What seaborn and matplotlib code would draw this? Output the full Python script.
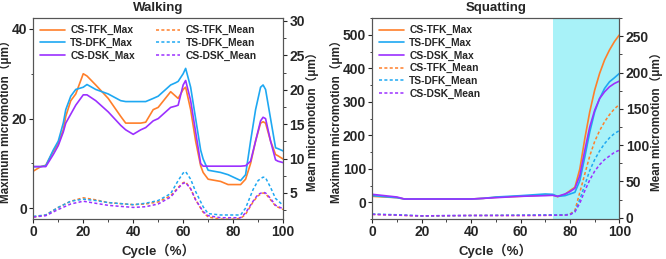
import numpy as np
import pandas as pd
import matplotlib
matplotlib.use("Agg")
import matplotlib.pyplot as plt
import seaborn as sns
from matplotlib.ticker import MultipleLocator, AutoMinorLocator

sns.set_style("ticks")
plt.rcParams['font.family'] = ['Liberation Sans', 'Noto Sans CJK SC', 'DejaVu Sans']
plt.rcParams['font.weight'] = 'bold'

series_names = ["CS-TFK", "TS-DFK", "CS-DSK"]
colors = ["#FF7F2A", "#1EA8F2", "#9B30FF"]

# ---------------- Walking ----------------
walk_x = [0, 3, 5, 8, 10, 12, 13, 15, 17, 20, 21.5, 25, 30, 35, 37, 40, 43, 45, 48, 50, 55, 57, 58, 60, 61,
          63, 65, 67, 68, 70, 75, 78, 83, 85, 87, 89, 91, 92, 93, 95, 97, 98, 100]
walk_tfk_max = [8.3, 9.3, 9.6, 12.7, 14.5, 17.5, 20.5, 24.0, 25.5, 30.0, 29.5, 27.5, 24.5, 20.5, 19.0, 19.0, 19.0, 19.2, 22.0, 22.5, 26.0, 25.0, 24.5, 26.5, 27.0,
                22.0, 15.0, 9.5, 8.0, 6.5, 6.0, 5.3, 5.3, 6.5, 10.0, 15.0, 19.0, 19.3, 19.0, 15.0, 12.0, 11.7, 11.0]
walk_dfk_max = [9.3, 9.3, 9.5, 13.0, 15.0, 19.0, 22.0, 25.0, 26.5, 27.0, 27.6, 26.5, 25.5, 24.0, 23.8, 23.8, 23.8, 23.8, 24.5, 25.0, 27.5, 28.0, 28.3, 30.0, 31.2,
                27.0, 20.0, 13.0, 11.0, 8.5, 8.0, 7.5, 6.2, 7.5, 15.0, 22.0, 27.0, 27.5, 26.5, 20.0, 13.5, 13.3, 12.8]
walk_dsk_max = [9.3, 9.3, 9.3, 12.0, 14.0, 17.0, 19.0, 21.0, 23.0, 25.3, 25.3, 24.0, 21.5, 18.5, 17.5, 16.5, 17.5, 18.0, 19.5, 20.0, 22.5, 22.8, 23.0, 27.5, 28.5,
                24.0, 17.0, 10.0, 9.4, 9.4, 9.4, 9.4, 9.4, 9.5, 10.5, 15.0, 19.5, 20.3, 20.0, 15.0, 10.8, 10.5, 10.2]

walk_mx = [0, 5, 10, 15, 20, 25, 30, 40, 45, 50, 55, 58, 60, 61, 63, 65, 68, 70, 75, 80, 83, 85, 88, 90, 92, 93, 95, 97, 100]
walk_tfk_mean = [1.5, 1.8, 2.9, 3.8, 4.3, 4.0, 3.6, 3.3, 3.4, 3.7, 4.6, 5.8, 6.5, 6.6, 5.6, 4.0, 2.2, 1.5, 1.2, 1.2, 1.3, 1.9, 3.7, 4.6, 5.0, 4.9, 4.0, 3.1, 2.6]
walk_dfk_mean = [1.6, 1.8, 2.9, 3.8, 4.1, 3.9, 3.6, 3.3, 3.5, 3.9, 4.9, 6.8, 7.9, 8.1, 7.0, 5.2, 3.0, 2.0, 1.8, 1.8, 1.8, 2.8, 5.5, 6.8, 7.3, 7.2, 5.8, 4.2, 3.2]
walk_dsk_mean = [1.5, 1.7, 2.6, 3.4, 3.8, 3.5, 3.2, 2.9, 3.0, 3.4, 4.4, 5.7, 6.4, 6.5, 5.6, 4.0, 2.3, 1.7, 1.4, 1.4, 1.4, 2.1, 3.8, 4.8, 5.1, 5.0, 4.2, 3.2, 2.7]

# ---------------- Squatting ----------------
sq_x = [0, 5, 10, 13, 20, 30, 40, 45, 50, 60, 70, 73, 75, 78, 80, 82, 84, 86, 88, 90, 92, 94, 96, 98, 100]
sq_tfk_max = [18, 16, 14, 10, 10, 10, 10, 12, 15, 18, 22, 22, 17, 24, 35, 45, 100, 190, 270, 335, 385, 425, 455, 480, 500]
sq_dfk_max = [20, 17, 14, 10, 10, 10, 10, 12, 16, 20, 25, 24, 18, 20, 25, 30, 65, 135, 210, 270, 310, 340, 360, 372, 385]
sq_dsk_max = [24, 20, 16, 10, 10, 10, 10, 12, 14, 18, 20, 21, 18, 25, 32, 42, 80, 155, 225, 275, 310, 330, 345, 355, 362]

sq_mx = [0, 10, 20, 30, 40, 50, 60, 70, 78, 80, 82, 84, 86, 88, 90, 92, 94, 96, 98, 100]
sq_tfk_mean = [4.5, 3.5, 2.0, 2.5, 3.0, 3.0, 3.0, 3.2, 3.5, 5, 10, 35, 60, 85, 105, 120, 132, 142, 150, 156]
sq_dfk_mean = [5.0, 4.0, 2.5, 2.8, 3.0, 3.2, 3.5, 3.8, 4.0, 4.5, 8, 25, 45, 65, 80, 92, 102, 110, 116, 120]
sq_dsk_mean = [4.5, 3.5, 2.5, 2.8, 3.0, 3.0, 3.0, 3.2, 3.5, 4.0, 8, 20, 37, 52, 64, 73, 80, 85, 90, 93]

shade_start = 73


def long_df(x, ys):
    rows = []
    for name, y in zip(series_names, ys):
        for xi, yi in zip(x, y):
            rows.append({"x": xi, "y": yi, "s": name})
    return pd.DataFrame(rows)


fig = plt.figure(figsize=(6.66, 2.59), dpi=100)
axL = fig.add_axes([0.050, 0.154, 0.375, 0.776])
axR = fig.add_axes([0.559, 0.154, 0.371, 0.776])

tick_fs = 10
lab_fs = 8.4
leg_fs = 7.4
lab_family = ['Liberation Sans', 'Noto Sans CJK SC']


def draw(ax, x, maxes, mx, means, legend_cols, ylim_l, ylim_r, yl_major, yr_major, title):
    pal = dict(zip(series_names, colors))
    dmax = long_df(x, maxes)
    dmean = long_df(mx, means)
    sns.lineplot(data=dmax, x="x", y="y", hue="s", palette=pal, ax=ax, lw=1.2, legend=False)
    ax2 = ax.twinx()
    sns.lineplot(data=dmean, x="x", y="y", hue="s", palette=pal, ax=ax2, lw=1.1,
                 linestyle=(0, (2, 1.5)), legend=False)
    ax.set_xlim(0, 100)
    ax.set_ylim(*ylim_l)
    ax2.set_ylim(*ylim_r)
    ax.xaxis.set_major_locator(MultipleLocator(20))
    ax.xaxis.set_minor_locator(MultipleLocator(10))
    ax.yaxis.set_major_locator(MultipleLocator(yl_major))
    ax.yaxis.set_minor_locator(AutoMinorLocator(2))
    ax2.yaxis.set_major_locator(MultipleLocator(yr_major))
    ax2.yaxis.set_minor_locator(AutoMinorLocator(2))
    for a in (ax, ax2):
        a.tick_params(which='major', direction='out', length=3, width=0.8, labelsize=tick_fs, pad=1.5)
        a.tick_params(which='minor', direction='out', length=1.8, width=0.6)
        for sp in a.spines.values():
            sp.set_color('#555555')
            sp.set_linewidth(0.8)
        for lab in a.get_xticklabels() + a.get_yticklabels():
            lab.set_fontweight('bold')
    ax2.spines['top'].set_visible(True)
    ax.spines['top'].set_visible(True)
    ax.spines['right'].set_visible(True)
    ax.set_xlabel("Cycle（%）", fontsize=9.5, fontweight='bold', family=lab_family, labelpad=3)
    ax.set_ylabel("Maximum micromotion（μm）", fontsize=lab_fs, fontweight='bold', family=lab_family, labelpad=0)
    ax2.set_ylabel("Mean micromotion（μm）", fontsize=lab_fs, fontweight='bold', family=lab_family, labelpad=1)
    ax.set_title(title, fontsize=9.5, fontweight='bold', pad=5)

    handles = []
    labels = []
    for n, c in zip(series_names, colors):
        handles.append(plt.Line2D([], [], color=c, lw=1.2))
        labels.append(f"{n}_Max")
    for n, c in zip(series_names, colors):
        handles.append(plt.Line2D([], [], color=c, lw=1.1, linestyle=(0, (2, 1.5))))
        labels.append(f"{n}_Mean")
    ax2.legend(handles, labels, ncol=legend_cols, loc='upper left', frameon=False,
               handlelength=2.4, handletextpad=0.5, labelspacing=0.25,
               columnspacing=2.0, borderaxespad=0.3,
               prop={'weight': 'bold', 'size': leg_fs})
    return ax2


draw(axL, walk_x, [walk_tfk_max, walk_dfk_max, walk_dsk_max],
     walk_mx, [walk_tfk_mean, walk_dfk_mean, walk_dsk_mean], 2,
     (-2.4, 42.4), (1.2, 30.4), 20, 5, "Walking")

axR.axvspan(shade_start, 100, color="#A8F2F8", zorder=0, lw=0)
draw(axR, sq_x, [sq_tfk_max, sq_dfk_max, sq_dsk_max],
     sq_mx, [sq_tfk_mean, sq_dfk_mean, sq_dsk_mean], 1,
     (-50, 550), (-2, 275), 100, 50, "Squatting")

fig.savefig("out.png", dpi=100)
